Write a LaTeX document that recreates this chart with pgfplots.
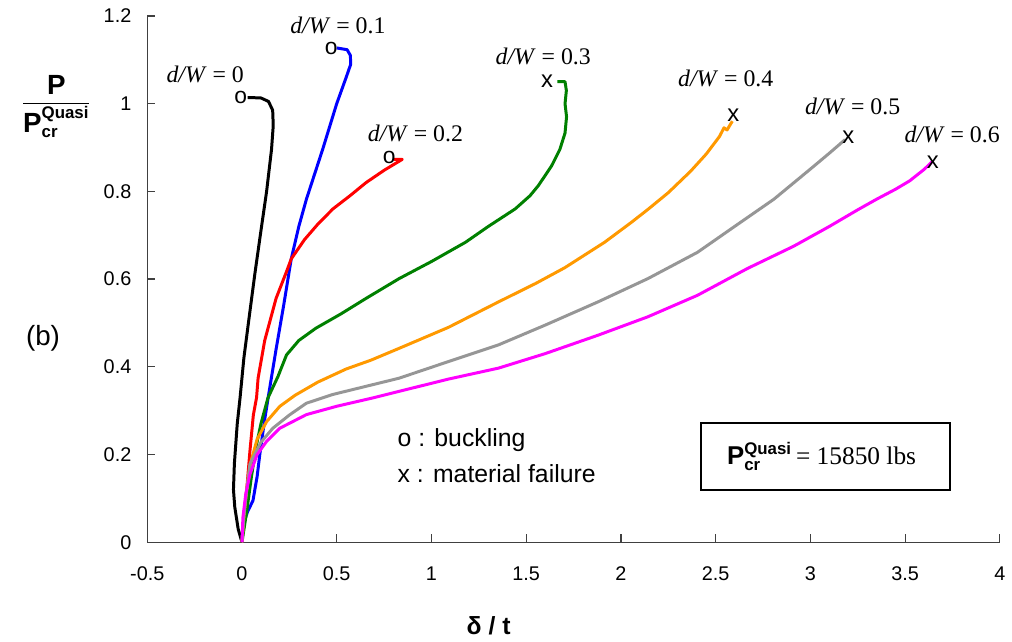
\documentclass[border=0pt]{standalone}
\usepackage{fontspec}
\setmainfont{Liberation Sans}
\newfontfamily\tnr{Liberation Serif}
\usepackage{pgfplots}
\pgfplotsset{compat=1.18}
\definecolor{cgreen}{RGB}{0,128,0}
\definecolor{corange}{RGB}{255,153,0}
\definecolor{cgray}{RGB}{150,150,150}
\definecolor{cmag}{RGB}{255,0,255}
\begin{document}
\begin{tikzpicture}
\begin{axis}[
  scale only axis, width=428.5bp, height=264.5bp,
  xmin=-0.5, xmax=4, ymin=0, ymax=1.2,
  axis lines=left, axis line style={black!75, line width=0.6pt, -},
  xtick={-0.5,0,...,4}, ytick={0,0.2,...,1.2},
  tick align=inside, major tick length=4bp,
  tick style={black!75, line width=0.6pt},
  /pgf/number format/assume math mode=true,
  ticklabel style={font=\fontsize{10}{12}\selectfont},
  xticklabel style={yshift=-9bp},
  yticklabel style={xshift=-4.5bp, /pgf/number format/fixed},
  xticklabel style={/pgf/number format/fixed},
  clip=false,
  every axis plot/.append style={line width=1.5bp, line join=round},
]
\coordinate (O) at (rel axis cs:0,0);
% d/W = 0
\addplot[black] coordinates {(0,0) (-0.02,0.03) (-0.038,0.08) (-0.045,0.12) (-0.04,0.18) (-0.025,0.27) (-0.01,0.33) (0.01,0.42) (0.04,0.52) (0.068,0.612) (0.1,0.71) (0.13,0.8) (0.156,0.896) (0.165,0.95) (0.162,0.985) (0.14,1.005) (0.1,1.013) (0.03,1.014)};
% d/W = 0.1
\addplot[blue] coordinates {(0,0) (0.005,0.04) (0.03,0.07) (0.058,0.095) (0.08,0.15) (0.094,0.2) (0.12,0.28) (0.142,0.34) (0.18,0.44) (0.22,0.54) (0.26,0.646) (0.3,0.72) (0.34,0.782) (0.426,0.896) (0.5,1.0) (0.55,1.06) (0.574,1.09) (0.572,1.11) (0.555,1.123) (0.5,1.127)};
% d/W = 0.2
\addplot[red] coordinates {(0,0) (0.01,0.05) (0.025,0.12) (0.042,0.208) (0.06,0.29) (0.077,0.33) (0.085,0.374) (0.12,0.46) (0.18,0.556) (0.235,0.617) (0.26,0.646) (0.33,0.69) (0.4,0.725) (0.48,0.76) (0.57,0.79) (0.655,0.82) (0.75,0.848) (0.846,0.873) (0.8,0.873)};
% d/W = 0.3
\addplot[cgreen] coordinates {(0,0) (0.025,0.07) (0.05,0.15) (0.077,0.223) (0.1,0.27) (0.137,0.329) (0.19,0.378) (0.235,0.427) (0.3,0.46) (0.39,0.488) (0.52,0.52) (0.655,0.556) (0.829,0.601) (1.0,0.64) (1.18,0.684) (1.3,0.72) (1.442,0.76) (1.52,0.79) (1.564,0.813) (1.634,0.858) (1.678,0.896) (1.705,0.933) (1.713,0.97) (1.705,1.0) (1.712,1.03) (1.705,1.05) (1.665,1.05)};
% d/W = 0.4
\addplot[corange] coordinates {(0,0) (0.01,0.06) (0.025,0.12) (0.045,0.18) (0.08,0.235) (0.13,0.275) (0.2,0.31) (0.28,0.335) (0.4,0.365) (0.55,0.395) (0.68,0.415) (0.829,0.442) (1.09,0.49) (1.354,0.548) (1.55,0.59) (1.704,0.626) (1.914,0.684) (2.054,0.729) (2.14,0.758) (2.25,0.797) (2.368,0.846) (2.45,0.885) (2.52,0.925) (2.544,0.945) (2.56,0.94) (2.588,0.96)};
% d/W = 0.5
\addplot[cgray] coordinates {(0,0) (0.01,0.06) (0.025,0.12) (0.042,0.178) (0.1,0.228) (0.163,0.26) (0.25,0.29) (0.34,0.317) (0.48,0.337) (0.65,0.355) (0.829,0.374) (1.09,0.412) (1.354,0.45) (1.6,0.495) (1.879,0.548) (2.142,0.601) (2.404,0.661) (2.6,0.72) (2.807,0.782) (2.95,0.833) (3.017,0.857) (3.1,0.887) (3.183,0.918)};
% d/W = 0.6
\addplot[cmag] coordinates {(0,0) (0.005,0.057) (0.02,0.11) (0.042,0.155) (0.08,0.2) (0.13,0.23) (0.2,0.26) (0.34,0.291) (0.5,0.31) (0.69,0.329) (0.829,0.344) (1.09,0.372) (1.354,0.397) (1.6,0.43) (1.879,0.472) (2.142,0.514) (2.404,0.563) (2.667,0.624) (2.912,0.675) (3.1,0.72) (3.25,0.758) (3.349,0.782) (3.45,0.805) (3.524,0.824) (3.6,0.85) (3.646,0.869)};
% markers
\addplot[only marks, mark=text, text mark={\fontsize{11.5}{12}\selectfont o}, black] coordinates {(-0.007,1.013) (0.471,1.126) (0.777,0.877)};
\addplot[only marks, mark=text, text mark={\fontsize{12}{12}\selectfont x}, black] coordinates {(1.61,1.05) (2.593,0.973) (3.2,0.924) (3.646,0.866)};
% labels
\node[font=\fontsize{12}{14}\selectfont\tnr] at (axis cs:-0.194,1.066) {\textit{d/W} = 0};
\node[font=\fontsize{12}{14}\selectfont\tnr] at (axis cs:0.506,1.179) {\textit{d/W} = 0.1};
\node[font=\fontsize{12}{14}\selectfont\tnr] at (axis cs:0.915,0.933) {\textit{d/W} = 0.2};
\node[font=\fontsize{12}{14}\selectfont\tnr] at (axis cs:1.59,1.107) {\textit{d/W} = 0.3};
\node[font=\fontsize{12}{14}\selectfont\tnr] at (axis cs:2.553,1.058) {\textit{d/W} = 0.4};
\node[font=\fontsize{12}{14}\selectfont\tnr] at (axis cs:3.223,0.994) {\textit{d/W} = 0.5};
\node[font=\fontsize{12}{14}\selectfont\tnr] at (axis cs:3.748,0.93) {\textit{d/W} = 0.6};
\node[anchor=west, inner sep=0pt, font=\fontsize{12.5}{14}\selectfont] at (axis cs:0.82,0.233) {o : buckling};
\node[anchor=west, inner sep=0pt, font=\fontsize{12.5}{14}\selectfont] at (axis cs:0.82,0.157) {x : material failure};
\node[draw, line width=1bp, minimum width=125.5bp, minimum height=33.5bp, inner sep=0pt] at (axis cs:3.08,0.196)
  {\hspace{-4pt}{\fontsize{13}{14}\selectfont\bfseries P}$^{\mbox{\fontsize{8.5}{9}\selectfont\bfseries Quasi}}_{\mbox{\fontsize{8.5}{9}\selectfont\bfseries cr}}$\hspace{2pt}{\fontsize{12.8}{14}\selectfont\tnr = 15850 lbs}};
\node at (axis cs:-0.98,0.993) {$\displaystyle\frac{\mbox{\fontsize{14}{16}\selectfont\bfseries P}}{\mbox{\fontsize{14}{16}\selectfont\bfseries P}^{\mbox{\fontsize{8.5}{9}\selectfont\bfseries Quasi}}_{\mbox{\fontsize{8.5}{9}\selectfont\bfseries cr}}}$};
\node[font=\fontsize{14}{16}\selectfont] at (axis cs:-1.05,0.465) {(b)};
\node[font=\fontsize{12.5}{14}\selectfont\bfseries] at (axis cs:1.302,-0.19) {δ / t};
\end{axis}
\path (O) ++(-74bp,-47.5bp) rectangle ++(506bp,320bp);
\end{tikzpicture}
\end{document}
